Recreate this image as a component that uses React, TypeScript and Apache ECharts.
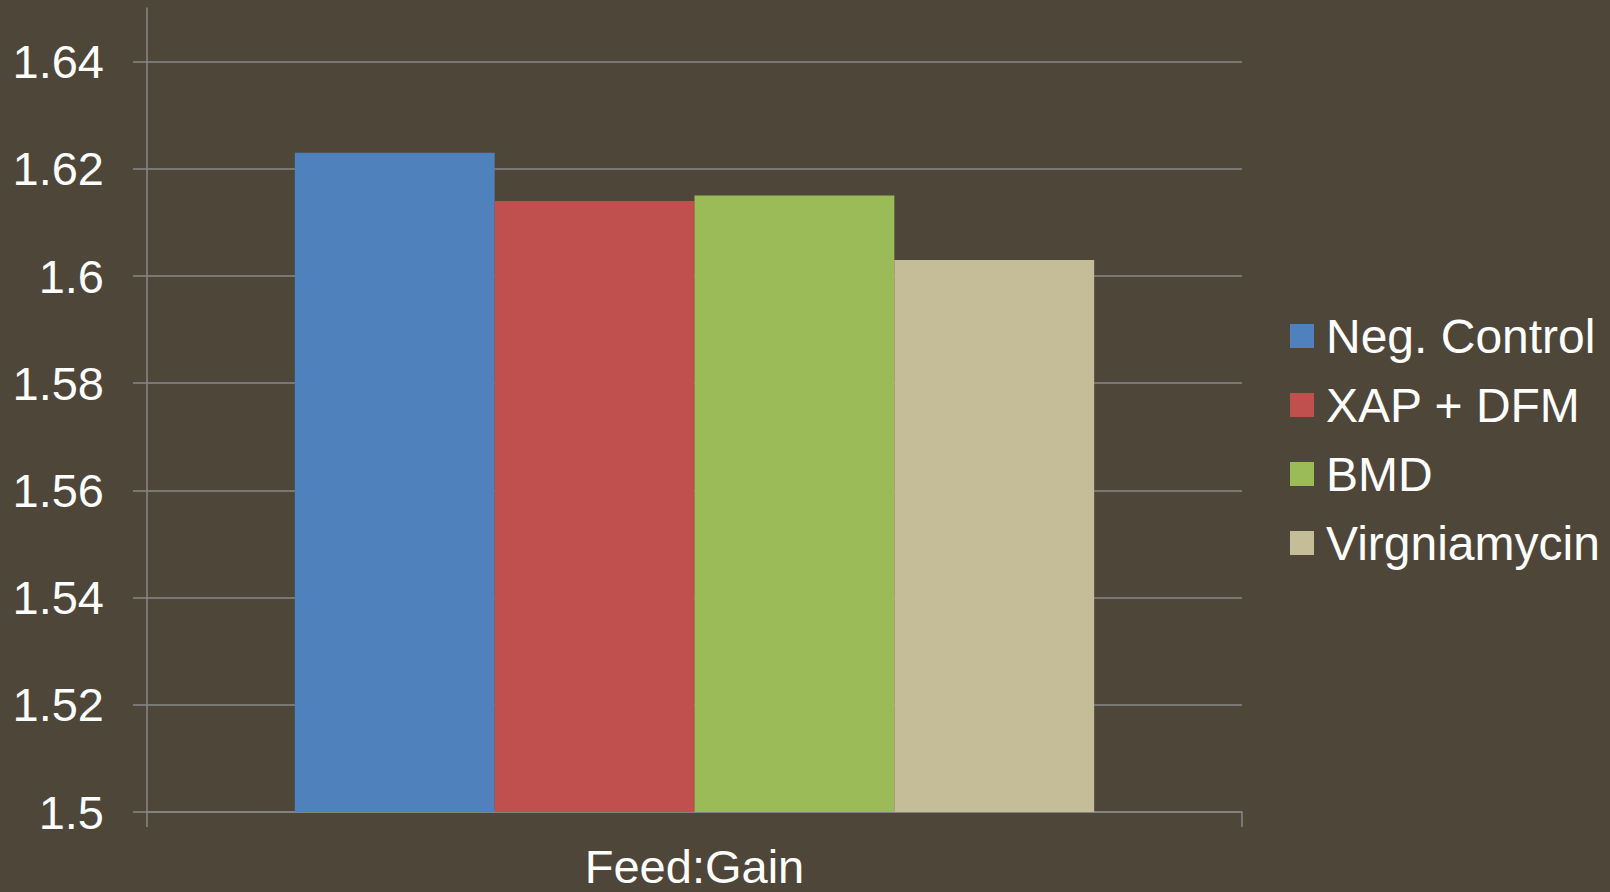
import React, { useEffect, useRef } from "react";
import * as echarts from "echarts";

// Feed:Gain by treatment
const categories = ["Feed:Gain"];
const seriesNames = ["Neg. Control", "XAP + DFM", "BMD", "Virgniamycin"];
const negControl = [1.623];
const xapDfm = [1.614];
const bmd = [1.615];
const virgniamycin = [1.603];
const yTicks = [1.5, 1.52, 1.54, 1.56, 1.58, 1.6, 1.62, 1.64];

const colors = ["#4F81BD", "#C0504D", "#9BBB59", "#C4BD97"];
const seriesValues = [negControl, xapDfm, bmd, virgniamycin];

const FONT = "'Liberation Sans', Arial, sans-serif";
const GRID_GREY = "#878787";

export default function App() {
  const ref = useRef<HTMLDivElement>(null);

  useEffect(() => {
    if (!ref.current) return;
    const chart = echarts.init(ref.current, null, { renderer: "svg" });
    chart.setOption({
      animation: false,
      backgroundColor: "#4F463A",
      textStyle: { fontFamily: FONT },
      grid: { left: 147, right: 368, top: 8, bottom: 80, containLabel: false },
      legend: {
        orient: "vertical",
        left: 1290,
        top: 312,
        padding: 0,
        itemWidth: 24,
        itemHeight: 24,
        itemGap: 21,
        icon: "rect",
        data: seriesNames,
        textStyle: {
          color: "#FFFFFF",
          fontSize: 48,
          lineHeight: 48,
          fontFamily: FONT,
          padding: [0, 0, 0, 7],
        },
      },
      xAxis: {
        type: "category",
        data: categories,
        axisLine: { show: true, lineStyle: { color: GRID_GREY, width: 1.5 } },
        axisTick: { show: true, length: 15, lineStyle: { color: GRID_GREY, width: 1.5 } },
        axisLabel: { color: "#FFFFFF", fontSize: 47, margin: 31, fontFamily: FONT },
        splitLine: { show: false },
      },
      yAxis: {
        type: "value",
        min: 1.5,
        max: 1.65,
        interval: 0.02,
        axisLine: { show: true, lineStyle: { color: GRID_GREY, width: 1.5 } },
        axisTick: {
          show: true,
          length: 14,
          customValues: yTicks,
          lineStyle: { color: GRID_GREY, width: 1.5 },
        },
        axisLabel: {
          color: "#FFFFFF",
          fontSize: 47,
          margin: 43,
          fontFamily: FONT,
          customValues: yTicks,
          formatter: (v: number) => String(+v.toFixed(2)),
        },
        splitLine: {
          show: true,
          lineStyle: { color: GRID_GREY, width: 1.5 },
        },
      },
      series: seriesNames.map((name, i) => ({
        name,
        type: "bar",
        data: seriesValues[i],
        barGap: "0%",
        barCategoryGap: "27%",
        itemStyle: { color: colors[i] },
      })),
    });
    return () => chart.dispose();
  }, []);

  return (
    <div
      ref={ref}
      style={{ position: "fixed", left: 0, top: 0, width: 1610, height: 892 }}
    />
  );
}
